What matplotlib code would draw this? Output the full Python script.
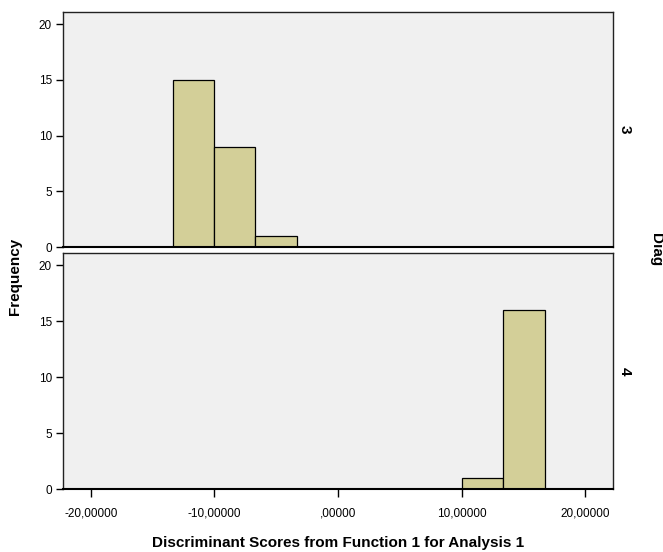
import numpy as np
import matplotlib
matplotlib.use('Agg')
import matplotlib.pyplot as plt

plt.rcParams['font.family'] = ['Liberation Sans', 'DejaVu Sans']

# histogram bins (discriminant scores) and counts per Diag group
bin_edges = [-13.38, -10.035, -6.69, -3.345, 0.0, 3.345, 6.69, 10.035, 13.38, 16.725]
counts_diag3 = [15, 9, 1, 0, 0, 0, 0, 0, 0]
counts_diag4 = [0, 0, 0, 0, 0, 0, 0, 1, 16]
groups = ['3', '4']

x_ticks = [-20, -10, 0, 10, 20]
x_tick_labels = ['-20,00000', '-10,00000', ',00000', '10,00000', '20,00000']
y_ticks = [0, 5, 10, 15, 20]

bar_color = '#d3cf98'
panel_bg = '#f0f0f0'

fig = plt.figure(figsize=(6.63, 5.52), dpi=100)
ax_top = fig.add_axes([0.095, 0.5525, 0.8296, 0.4258])
ax_bot = fig.add_axes([0.095, 0.1141, 0.8296, 0.4276])

edges = np.array(bin_edges)
centers = (edges[:-1] + edges[1:]) / 2

for ax, counts, label in zip([ax_top, ax_bot], [counts_diag3, counts_diag4], groups):
    ax.set_facecolor(panel_bg)
    ax.hist(centers, bins=edges, weights=counts, color=bar_color,
            edgecolor='black', linewidth=0.9)
    ax.set_xlim(-22.25, 22.25)
    ax.set_ylim(0, 21.1)
    ax.set_yticks(y_ticks)
    ax.set_yticklabels([str(t) for t in y_ticks], fontsize=8.5)
    ax.tick_params(axis='y', direction='out', length=5, width=1, pad=3)
    for side in ['top', 'right', 'left']:
        ax.spines[side].set_color('#222222')
        ax.spines[side].set_linewidth(1.0)
    ax.spines['bottom'].set_color('black')
    ax.spines['bottom'].set_linewidth(1.5)
    ax.text(1.022, 0.5, label, transform=ax.transAxes, rotation=-90,
            ha='center', va='center', fontsize=11, fontweight='bold')

ax_top.set_xticks([])
ax_bot.set_xticks(x_ticks)
ax_bot.set_xticklabels(x_tick_labels, fontsize=8.5)
ax_bot.tick_params(axis='x', direction='out', length=6, width=1, pad=7)
ax_bot.set_xlabel('Discriminant Scores from Function 1 for Analysis 1',
                  fontsize=11, fontweight='bold', labelpad=12)

fig.text(0.022, 0.5, 'Frequency', rotation=90, ha='center', va='center',
         fontsize=11, fontweight='bold')
fig.text(0.99, 0.547, 'Diag', rotation=-90, ha='center', va='center',
         fontsize=11, fontweight='bold')

plt.savefig('out.png', dpi=100)
